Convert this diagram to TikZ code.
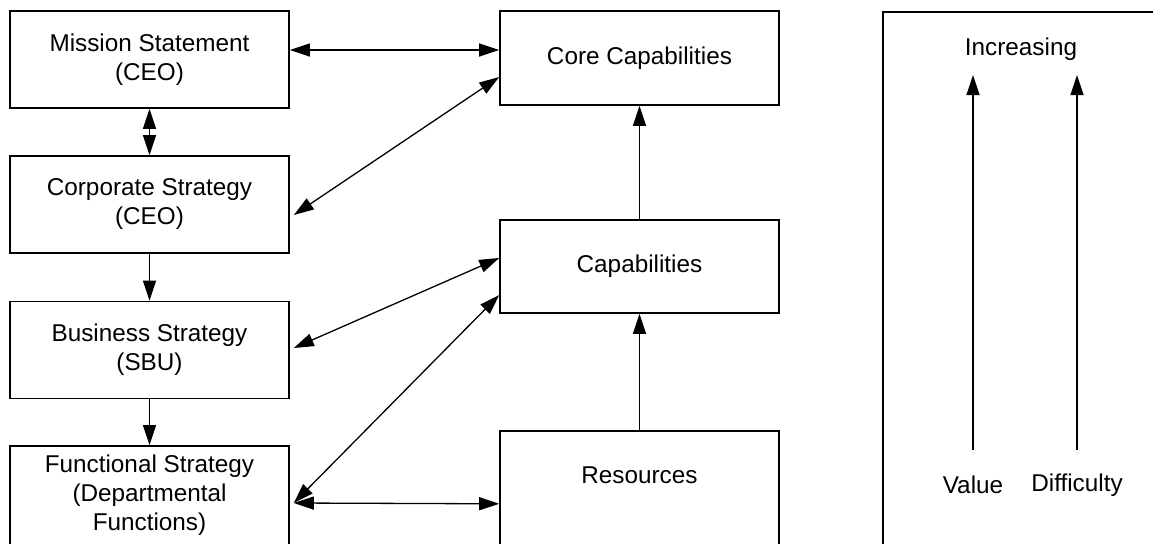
\documentclass[tikz,border=0pt]{standalone}
\usepackage{fontspec}
\setmainfont{Liberation Sans}
\usetikzlibrary{arrows.meta}

\tikzset{
  block/.style={draw,line width=0.8pt,minimum width=139.5pt,minimum height=48.5pt,align=center,inner sep=0pt},
  link/.style={line width=0.65pt},
  legendtext/.style={inner sep=0pt},
}

\begin{document}
\begin{tikzpicture}[x=0.5pt,y=-0.5pt,>={Triangle[length=10pt,width=6.5pt]},
    font=\fontsize{12.15}{14.5}\selectfont]
  \useasboundingbox (0,0) rectangle (1153,543);
  \clip (0,0) rectangle (1153,543);
  % strategy column
  \node[block] (mission)    at (149.5,59.5)  {Mission Statement\\(CEO)};
  \node[block] (corporate)  at (149.5,204.5) {Corporate Strategy\\(CEO)};
  \node[block] (business)   at (149.5,350)   {Business Strategy\\(SBU)};
  \node[block,minimum height=49.5pt] (functional) at (149.5,495.5)
    {Functional Strategy\\(Departmental\\Functions)};
  % resource column
  \node[block,minimum height=47pt] (core)    at (639.5,58)    {Core Capabilities};
  \node[block,minimum height=46.5pt] (capab) at (639.5,266.5) {Capabilities};
  \node[block,anchor=north,text height=26.5pt,text depth=60pt] (resources)
    at (639.5,430) {Resources};
  % legend
  \node[draw,line width=0.8pt,anchor=north west,minimum width=200pt,minimum height=300pt]
    (legendbox) at (882,11) {};
  \node[legendtext] (increasing) at (1021,49)  {Increasing};
  \node[legendtext] (value)      at (973,485)  {Value};
  \node[legendtext] (difficulty) at (1077,485) {Difficulty};

  % links
  \draw[link,<->] ([shift={(0,-9.5)}]mission.east) -- ([shift={(0,-8)}]core.west);
  \draw[link,<->] (mission) -- (corporate);
  \draw[link,<->] ([shift={(4,10.5)}]corporate.east) -- ([shift={(0,19)}]core.west);
  \draw[link,->] (corporate) -- (business);
  \draw[link,->] (business) -- (functional);
  \draw[link,<->] ([shift={(4,-2)}]business.east) -- ([shift={(0,-8.5)}]capab.west);
  \draw[link,<->] ([shift={(4,7.5)}]functional.east) -- ([shift={(0,28.5)}]capab.west);
  \draw[link,<->] ([shift={(4,7.5)}]functional.east) -- ([shift={(0,-13.5)}]resources.west);
  \draw[link,->] (resources.north) -- (capab.south);
  \draw[link,->] (capab) -- (core);
  \draw[link,->] ([shift={(0,-35)}]value.center) -- ([shift={(0,-410)}]value.center);
  \draw[link,->] ([shift={(0,-35)}]difficulty.center) -- ([shift={(0,-410)}]difficulty.center);
\end{tikzpicture}
\end{document}
